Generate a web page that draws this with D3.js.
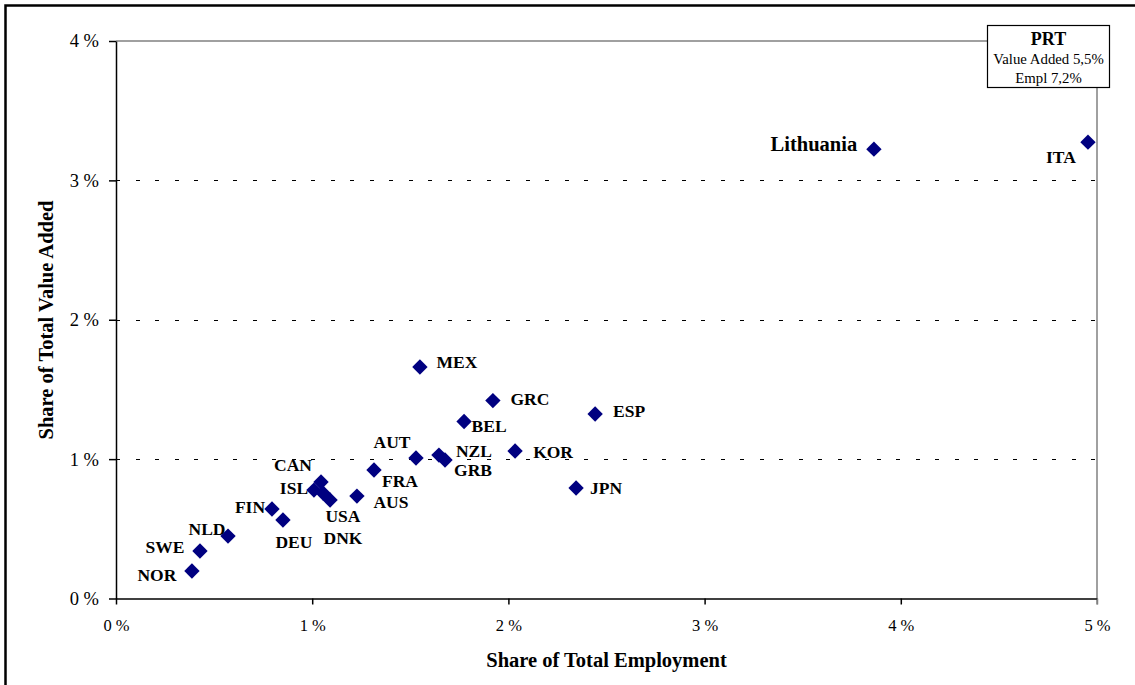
<!DOCTYPE html>
<html>
<head>
<meta charset="utf-8">
<script src="https://cdn.jsdelivr.net/npm/d3@7"></script>
<style>
  body { margin: 0; background: #fff; }
  svg { display: block; font-family: "Liberation Serif", "Times New Roman", serif; }
  .grid line { stroke: #000; stroke-dasharray: 4 15.5; shape-rendering: crispEdges; }
  .label { font-weight: bold; font-size: 17.5px; }
  .title { font-weight: bold; font-size: 20.5px; }
</style>
</head>
<body>
<svg id="chart" width="1135" height="685"></svg>
<script>
// countries and their shares (in %)
const countries = ['NOR', 'SWE', 'NLD', 'FIN', 'DEU', 'CAN', 'ISL', 'USA', 'DNK', 'AUS', 'FRA',
  'AUT', 'MEX', 'NZL', 'GRB', 'BEL', 'GRC', 'KOR', 'JPN', 'ESP', 'Lithuania', 'ITA'];
const emplShare = [0.387, 0.428, 0.571, 0.795, 0.851, 1.045, 1.009, 1.055, 1.091, 1.228, 1.315,
  1.529, 1.549, 1.646, 1.677, 1.774, 1.921, 2.034, 2.345, 2.442, 3.863, 4.954];
const valueShare = [0.197, 0.341, 0.448, 0.642, 0.563, 0.836, 0.778, 0.757, 0.707, 0.735, 0.922,
  1.008, 1.661, 1.029, 0.994, 1.270, 1.420, 1.058, 0.793, 1.324, 3.224, 3.274];

const xTicks = [0, 1, 2, 3, 4, 5];
const yTicks = [0, 1, 2, 3, 4];
const prtNote = ['PRT', 'Value Added 5,5%', 'Empl 7,2%'];

// where each label sits relative to its point (px)
const labelOffset = {
  NOR: [-35, 4], SWE: [-35, -4], NLD: [-21, -7], FIN: [-22, -2], DEU: [11, 22],
  CAN: [-28, -17], ISL: [-20, -2], USA: [20, 23], DNK: [13, 38], AUS: [34, 6],
  FRA: [26, 11], AUT: [-24, -16], MEX: [37, -5], NZL: [35, -4], GRB: [28, 10],
  BEL: [25, 5], GRC: [37, -2], KOR: [38, 1], JPN: [30, 0], ESP: [34, -3],
  Lithuania: [-60, -5], ITA: [-27, 15]
};

const points = countries.map((c, i) => ({ name: c, x: emplShare[i], y: valueShare[i] }));

const svg = d3.select('#chart');

const plotLeft = 116, plotRight = 1097, plotTop = 41, plotBottom = 598.5;

const xScale = d3.scaleLinear().domain([0, 5]).range([plotLeft, plotRight]);
const yScale = d3.scaleLinear().domain([0, 4]).range([plotBottom, plotTop]);

// outer frame (only top/left visible in the crop)
svg.append('rect')
  .attr('x', 5.5).attr('y', 5.5)
  .attr('width', 1150).attr('height', 700)
  .attr('fill', 'none')
  .attr('stroke', '#000')
  .attr('stroke-width', 2.5);

// dashed grid lines
svg.append('g')
  .attr('class', 'grid')
  .attr('transform', `translate(${plotLeft}, 0)`)
  .call(d3.axisLeft(yScale)
    .tickValues([1, 2, 3])
    .tickSize(-(plotRight - plotLeft))
    .tickFormat('')
  )
  .call(g => g.select('.domain').remove());

// plot area border top and right (grey)
svg.append('line')
  .attr('x1', plotLeft).attr('x2', plotRight)
  .attr('y1', yScale(4)).attr('y2', yScale(4))
  .attr('stroke', '#808080').attr('stroke-width', 1.5);
svg.append('line')
  .attr('x1', plotRight).attr('x2', plotRight)
  .attr('y1', yScale(4)).attr('y2', plotBottom + 6)
  .attr('stroke', '#808080').attr('stroke-width', 1.5);

// axes
const xAxis = svg.append('g')
  .attr('transform', `translate(0, ${plotBottom})`)
  .call(d3.axisBottom(xScale)
    .tickValues(xTicks)
    .tickSize(6)
    .tickSizeOuter(0)
    .tickPadding(15)
    .tickFormat(d => `${d} %`)
  );

const yAxis = svg.append('g')
  .attr('transform', `translate(${plotLeft}, 0)`)
  .call(d3.axisLeft(yScale)
    .tickValues(yTicks)
    .tickSize(7)
    .tickSizeOuter(0)
    .tickPadding(10)
    .tickFormat(d => `${d} %`)
  );

xAxis.selectAll('text').attr('font-size', 16.5).attr('fill', '#000');
yAxis.selectAll('text').attr('font-size', 18.5).attr('fill', '#000');
xAxis.attr('font-family', null);
yAxis.attr('font-family', null);
svg.selectAll('.domain, .tick line').attr('stroke', '#000').attr('stroke-width', 1.5);
svg.selectAll('.grid .tick line').attr('stroke-width', 1);
xAxis.selectAll('.tick line').filter(d => d === 5).attr('stroke', '#808080');

// points
const diamond = d3.symbol().type(d3.symbolSquare).size(118);

svg.append('g')
  .selectAll('path')
  .data(points)
  .enter()
  .append('path')
  .attr('d', diamond)
  .attr('fill', '#000080')
  .attr('transform', d => `translate(${xScale(d.x)}, ${yScale(d.y)}) rotate(45)`);

svg.append('g')
  .selectAll('text')
  .data(points)
  .enter()
  .append('text')
  .attr('class', 'label')
  .attr('x', d => xScale(d.x) + labelOffset[d.name][0])
  .attr('y', d => yScale(d.y) + labelOffset[d.name][1])
  .attr('text-anchor', 'middle')
  .attr('dominant-baseline', 'central')
  .style('font-size', d => d.name === 'Lithuania' ? '20.5px' : null)
  .text(d => d.name);

// PRT note box (off the scale)
const note = svg.append('g');
note.append('rect')
  .attr('x', 987.5).attr('y', 25.5)
  .attr('width', 122).attr('height', 62)
  .attr('fill', '#fff')
  .attr('stroke', '#000')
  .attr('stroke-width', 1.2);
note.selectAll('text')
  .data(prtNote)
  .enter()
  .append('text')
  .attr('x', 1048.5)
  .attr('y', (d, i) => [38.5, 59, 78][i])
  .attr('text-anchor', 'middle')
  .attr('dominant-baseline', 'central')
  .attr('font-weight', (d, i) => i === 0 ? 'bold' : 'normal')
  .attr('font-size', (d, i) => i === 0 ? 18 : 14.8)
  .text(d => d);

// axis titles
svg.append('text')
  .attr('class', 'title')
  .attr('x', -320)
  .attr('y', 46)
  .attr('transform', 'rotate(-90)')
  .attr('text-anchor', 'middle')
  .attr('dominant-baseline', 'central')
  .text('Share of Total Value Added');

svg.append('text')
  .attr('class', 'title')
  .attr('x', (plotLeft + plotRight) / 2)
  .attr('y', 660)
  .attr('text-anchor', 'middle')
  .attr('dominant-baseline', 'central')
  .text('Share of Total Employment');
</script>
</body>
</html>
